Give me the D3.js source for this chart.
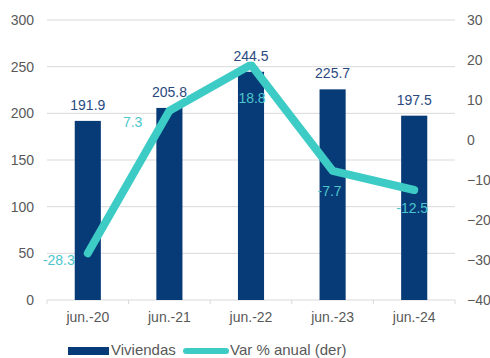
<!DOCTYPE html>
<html>
<head>
<meta charset="utf-8">
<script src="https://cdn.jsdelivr.net/npm/d3@7"></script>
<style>
  html, body { margin: 0; padding: 0; background: #fff; }
  svg { display: block; font-family: "Liberation Sans", Arial, sans-serif; }
</style>
</head>
<body>
<svg id="chart" width="490" height="358"></svg>
<script>
// Housing units (thousands) and year-on-year change (%)
const categories = ["jun.-20", "jun.-21", "jun.-22", "jun.-23", "jun.-24"];
const viviendas = [191.9, 205.8, 244.5, 225.7, 197.5];
const varAnual = [-28.3, 7.3, 18.8, -7.7, -12.5];
const leftTicks = [0, 50, 100, 150, 200, 250, 300];
const rightTicks = [-40, -30, -20, -10, 0, 10, 20, 30];
const seriesNames = ["Viviendas", "Var % anual (der)"];

// Label placement for the line series: [dx, dy, anchor]
const lineLabelPlacement = [
  [-13, 12, "end"],
  [-27, 16, "end"],
  [1, 38, "middle"],
  [-3, 25, "middle"],
  [-2, 23, "middle"]
];

const barColor = "#073b78";
const lineColor = "#3dcbc6";
const lineLabelColor = "#4cc6cb";
const barLabelColor = "#2a4a7f";
const tickColor = "#595959";
const gridColor = "#d9d9d9";

const svg = d3.select("#chart");
const plot = { left: 47, right: 455, top: 20, bottom: 300 };

const x = d3.scaleBand()
  .domain(categories)
  .range([plot.left, plot.right])
  .paddingInner(0.68)
  .paddingOuter(0.34);

const yL = d3.scaleLinear().domain([0, 300]).range([plot.bottom, plot.top]);
const yR = d3.scaleLinear().domain([-40, 30]).range([plot.bottom, plot.top]);

// Horizontal gridlines
svg.append("g")
  .selectAll("line")
  .data(leftTicks)
  .join("line")
  .attr("x1", plot.left)
  .attr("x2", plot.right)
  .attr("y1", d => yL(d))
  .attr("y2", d => yL(d))
  .attr("stroke", gridColor)
  .attr("stroke-width", 1);

// Category tick marks between bands
const boundaries = d3.range(categories.length + 1).map(i => plot.left + i * (plot.right - plot.left) / categories.length);
svg.append("g")
  .selectAll("line")
  .data(boundaries)
  .join("line")
  .attr("x1", d => d)
  .attr("x2", d => d)
  .attr("y1", plot.bottom)
  .attr("y2", plot.bottom + 4)
  .attr("stroke", gridColor);

// Left axis
const leftAxis = svg.append("g")
  .attr("transform", `translate(${plot.left - 13},0)`)
  .call(d3.axisLeft(yL).tickValues(leftTicks).tickSize(0).tickPadding(0));
leftAxis.select(".domain").remove();
leftAxis.selectAll("text")
  .attr("fill", tickColor)
  .attr("font-size", 14);

// Right axis
const rightAxis = svg.append("g")
  .attr("transform", `translate(${plot.right + 12},0)`)
  .call(d3.axisRight(yR).tickValues(rightTicks).tickSize(0).tickPadding(0));
rightAxis.select(".domain").remove();
rightAxis.selectAll("text")
  .attr("fill", tickColor)
  .attr("font-size", 14);

// Bottom axis labels
const bottomAxis = svg.append("g")
  .attr("transform", `translate(0,${plot.bottom})`)
  .call(d3.axisBottom(x).tickSize(0).tickPadding(12));
bottomAxis.select(".domain").remove();
bottomAxis.selectAll("text")
  .attr("fill", tickColor)
  .attr("font-size", 14);

// Bars
svg.append("g")
  .selectAll("rect")
  .data(viviendas)
  .join("rect")
  .attr("x", (d, i) => x(categories[i]))
  .attr("width", x.bandwidth())
  .attr("y", d => yL(d))
  .attr("height", d => yL(0) - yL(d))
  .attr("fill", barColor);

// Line series on the right axis
const line = d3.line()
  .x((d, i) => x(categories[i]) + x.bandwidth() / 2)
  .y(d => yR(d));

svg.append("path")
  .datum(varAnual)
  .attr("d", line)
  .attr("fill", "none")
  .attr("stroke", lineColor)
  .attr("stroke-width", 8)
  .attr("stroke-linecap", "round")
  .attr("stroke-linejoin", "round");

// Bar value labels, drawn above the line on a tight white backing
const barLabels = svg.append("g")
  .selectAll("g")
  .data(viviendas)
  .join("g")
  .attr("transform", (d, i) => `translate(${x(categories[i]) + x.bandwidth() / 2},${yL(d) - 11})`);
barLabels.append("rect")
  .attr("x", -17).attr("y", -11).attr("width", 34).attr("height", 12)
  .attr("fill", "#fff").attr("fill-opacity", 0.85);
barLabels.append("text")
  .attr("text-anchor", "middle")
  .attr("font-size", 14)
  .attr("fill", barLabelColor)
  .text(d => d.toFixed(1));

// Line value labels
svg.append("g")
  .selectAll("text")
  .data(varAnual)
  .join("text")
  .attr("x", (d, i) => x(categories[i]) + x.bandwidth() / 2 + lineLabelPlacement[i][0])
  .attr("y", (d, i) => yR(d) + lineLabelPlacement[i][1])
  .attr("text-anchor", (d, i) => lineLabelPlacement[i][2])
  .attr("font-size", 14)
  .attr("fill", lineLabelColor)
  .text(d => d.toFixed(1));

// Legend
const legend = svg.append("g");
legend.append("rect")
  .attr("x", 68).attr("y", 347).attr("width", 41).attr("height", 8)
  .attr("fill", barColor);
legend.append("text")
  .attr("x", 111).attr("y", 355)
  .attr("font-size", 15)
  .attr("fill", tickColor)
  .text(seriesNames[0]);
legend.append("line")
  .attr("x1", 186).attr("x2", 226).attr("y1", 351).attr("y2", 351)
  .attr("stroke", lineColor).attr("stroke-width", 6).attr("stroke-linecap", "round");
legend.append("text")
  .attr("x", 230).attr("y", 355)
  .attr("font-size", 15)
  .attr("fill", tickColor)
  .text(seriesNames[1]);
</script>
</body>
</html>
